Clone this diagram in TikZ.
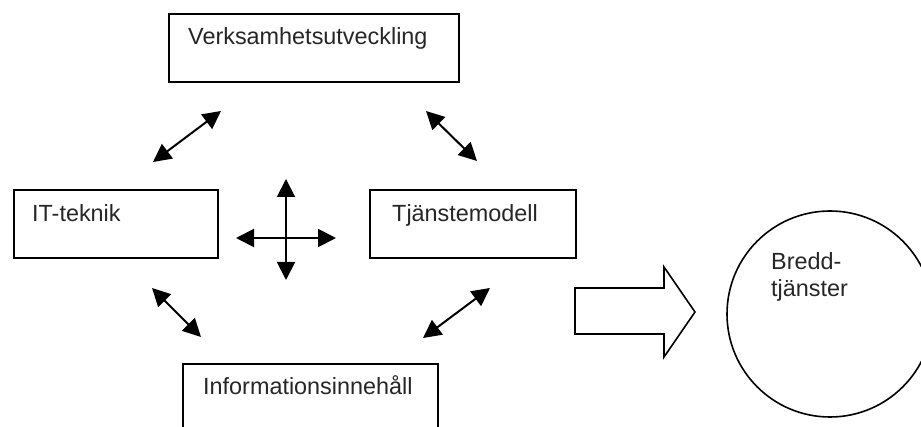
\documentclass[tikz,border=0pt]{standalone}
\usepackage{fontspec}
\setmainfont{Liberation Sans}
\usetikzlibrary{arrows.meta}
\begin{document}
\begin{tikzpicture}[x=1pt,y=-1pt,
  box/.style={draw=black, line width=1.6pt, rectangle, inner sep=0pt, minimum height=68pt},
  lbl/.style={anchor=base west, inner sep=0pt, text=black!85, font=\fontsize{23.4}{27}\selectfont},
  dbl/.style={{Triangle[length=18pt,width=18pt]}-{Triangle[length=18pt,width=18pt]}, line width=2pt},
  shape line/.style={draw=black, line width=1.6pt}]
\useasboundingbox (0,0) rectangle (921,427);
\clip (0,0) rectangle (921,427);
% boxes
\node[box, minimum width=290pt] (verk) at (314,48) {};
\node[box, minimum width=204pt] (it) at (116,224) {};
\node[box, minimum width=206pt] (tj) at (473,224) {};
\node[box, minimum width=255pt] (info) at (310.5,398) {};
% labels
\node[lbl] (verkL) at (188,45) {Verksamhetsutveckling};
\node[lbl] (itL) at (32,222) {IT-teknik};
\node[lbl] (tjL) at (392,222) {Tjänstemodell};
\node[lbl] (infoL) at (203,395) {Informationsinnehåll};
% diagonal arrow ends
\coordinate (tl1) at (153,162);
\coordinate (tl2) at (221,111);
\coordinate (tr1) at (426,111);
\coordinate (tr2) at (477,161);
\coordinate (bl1) at (152,288);
\coordinate (bl2) at (201,337);
\coordinate (br1) at (490,288);
\coordinate (br2) at (423,338);
\draw[dbl] (tl1) -- (tl2);
\draw[dbl] (tr1) -- (tr2);
\draw[dbl] (bl1) -- (bl2);
\draw[dbl] (br1) -- (br2);
% cross
\coordinate (cL) at (236,238);
\coordinate (cR) at (336,238);
\coordinate (cT) at (286,179);
\coordinate (cB) at (286,280);
\draw[dbl] (cL) -- (cR);
\draw[dbl] (cT) -- (cB);
% block arrow
\draw[shape line, line join=miter] (575,288) -- (664,288) -- (664,267) -- (695,312) -- (664,357) -- (664,334) -- (575,334) -- cycle;
% circle
\node[circle, draw=black, line width=1.6pt, minimum size=206pt, inner sep=0pt] (bredd) at (830,314) {};
\node[lbl, align=left, anchor=base west] (breddL) at (771,297) {Bredd-\\tjänster};
\end{tikzpicture}
\end{document}
